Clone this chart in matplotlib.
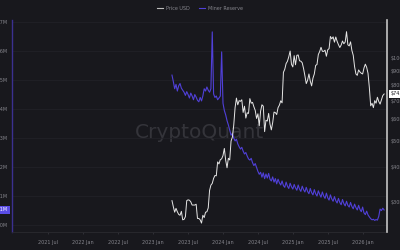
import matplotlib
matplotlib.use("Agg")
import matplotlib.pyplot as plt
import matplotlib.ticker as mticker
from matplotlib.lines import Line2D
import pandas as pd

# weekly BTC price, thousands of USD, from 2023-04-10
price_k = [30.3, 28.8, 27.5, 28.4, 27.6, 27.0, 26.8, 27.7, 25.8, 25.9, 26.5, 30.3, 30.5,
           30.4, 30.0, 29.2, 29.2, 29.2, 29.4, 26.1, 26.1, 25.8, 25.1, 26.8, 26.3, 27.5,
           27.6, 28.5, 33.0, 34.5, 35.0, 36.5, 37.4, 37.3, 41.9, 41.2, 42.7, 43.0,
           44.2, 46.9, 42.5, 39.9, 43.2, 42.6, 49.9, 51.6, 57.0, 66.0, 71.5, 67.6, 70.0,
           69.6, 70.5, 63.4, 66.8, 60.5, 63.2, 62.9, 71.2, 68.5, 69.0, 66.5, 64.5, 60.3,
           62.7, 56.7, 64.1, 67.6, 66.8, 54.0, 59.4, 59.0, 62.9, 57.5, 54.8, 58.2, 63.6,
           63.3, 62.3, 66.0, 67.4, 69.9, 68.7, 88.7, 91.0, 95.5, 97.3, 101.1, 106.0, 94.9,
           92.8,
           102.0, 94.5, 102.3, 102.6, 97.7, 97.4, 96.1, 91.6, 86.2, 80.7, 83.0, 87.5, 82.4,
           79.2, 84.5, 87.5, 94.0, 94.7, 103.0, 105.6, 109.4, 105.8, 105.7, 106.8, 101.5,
           107.1, 108.2, 119.8, 117.4, 119.4, 114.2, 119.3, 115.0, 111.8, 109.2, 111.5,
           115.3, 112.7, 114.3, 124.7, 111.7, 110.7, 114.5, 106.5, 102.3, 93.0, 87.5, 86.5,
           90.5, 89.0, 88.0, 87.5,
           92.0, 95.0, 92.5, 88.0, 78.0, 67.0, 68.5, 66.0, 70.0, 68.5, 72.0, 69.5, 68.0,
           70.5, 73.0, 74.0]

# weekly miner reserve, millions of BTC, same dates
reserve_m = [1.8517, 1.8495, 1.8470, 1.8485, 1.8462,
             1.8480, 1.8488, 1.8472, 1.8465,
             1.8458, 1.8447, 1.8460, 1.8450, 1.8438,
             1.8455, 1.8445, 1.8432, 1.8450, 1.8441,
             1.8430, 1.8425, 1.8440, 1.8428, 1.8445,
             1.8470, 1.8462, 1.8476, 1.8465, 1.8458, 1.8470,
             1.8666,
             1.8452, 1.8440, 1.8445, 1.8432, 1.8438, 1.8445,
             1.8597,
             1.8420, 1.8395, 1.8380, 1.8360, 1.8345, 1.8328, 1.8310,
             1.8315, 1.8300, 1.8290, 1.8296, 1.8280, 1.8270, 1.8262,
             1.8268, 1.8255, 1.8245, 1.8250, 1.8238, 1.8228, 1.8224,
             1.8230, 1.8215, 1.8205, 1.8212, 1.8198, 1.8185, 1.8175,
             1.8182, 1.8165, 1.8180, 1.8160, 1.8176, 1.8162, 1.8178, 1.8158,
             1.8152, 1.8166, 1.8148, 1.8160, 1.8142, 1.8158, 1.8146,
             1.8138, 1.8152, 1.8136, 1.8130, 1.8148, 1.8134, 1.8126, 1.8144,
             1.8132, 1.8124, 1.8140, 1.8128, 1.8120, 1.8138, 1.8124, 1.8116,
             1.8134, 1.8122, 1.8114, 1.8130, 1.8116, 1.8108, 1.8126, 1.8112,
             1.8104, 1.8122, 1.8108, 1.8100, 1.8118, 1.8106, 1.8096, 1.8114,
             1.8100, 1.8092, 1.8110, 1.8094, 1.8086, 1.8104, 1.8090, 1.8082,
             1.8098, 1.8084, 1.8076, 1.8092, 1.8078, 1.8070, 1.8088, 1.8074,
             1.8066, 1.8082, 1.8068, 1.8062, 1.8078, 1.8064, 1.8056, 1.8072,
             1.8060, 1.8052, 1.8068, 1.8054, 1.8046, 1.8062, 1.8042, 1.8036,
             1.8048, 1.8035, 1.8028, 1.8022, 1.8018, 1.8020, 1.8016, 1.8019, 1.8017,
             1.8030, 1.8055, 1.8050, 1.8058, 1.8052]

reserve_ticks = [1.80, 1.81, 1.82, 1.83, 1.84, 1.85, 1.86, 1.87]
reserve_labels = ["1.80M", "1.81M", "1.82M", "1.83M", "1.84M", "1.85M", "1.86M", "1.87M"]
price_ticks = [30, 40, 50, 60, 70, 80, 90, 100]
price_labels = ["$30K", "$40K", "$50K", "$60K", "$70K", "$80K", "$90K", "$100K"]
x_ticks = ["2021-07-01", "2022-01-01", "2022-07-01", "2023-01-01", "2023-07-01",
           "2024-01-01", "2024-07-01", "2025-01-01", "2025-07-01", "2026-01-01"]
x_labels = ["2021 Jul", "2022 Jan", "2022 Jul", "2023 Jan", "2023 Jul",
            "2024 Jan", "2024 Jul", "2025 Jan", "2025 Jul", "2026 Jan"]

bg = "#18181d"
blue = "#5040d8"
white = "#e6e6e6"
txt = "#85858c"

dates = pd.date_range("2023-04-10", periods=len(price_k), freq="W-MON")

fig = plt.figure(figsize=(4, 2.5), dpi=100, facecolor=bg)
ax = fig.add_axes([0.03, 0.072, 0.9375, 0.848])
ax.set_facecolor(bg)
ax2 = ax.twinx()

# watermark
ax.text(0.5, 0.47, "CryptoQuant", transform=fig.transFigure, ha="center", va="center",
        fontsize=14.5, color="#34343a", zorder=0)

ax.plot(dates, reserve_m, color=blue, lw=0.8, zorder=2)
ax2.plot(dates, price_k, color=white, lw=0.7)

ax.set_xlim(pd.Timestamp("2020-12-27"), pd.Timestamp("2026-05-05"))
ax.set_ylim(1.7976, 1.8707)
ax2.set_yscale("log")
ax2.set_ylim(23.3, 137.5)

ax.set_xticks(pd.to_datetime(x_ticks))
ax.set_xticklabels(x_labels)
ax.set_yticks(reserve_ticks)
ax.set_yticklabels(reserve_labels)
ax2.set_yticks(price_ticks)
ax2.set_yticklabels(price_labels)
ax2.yaxis.set_minor_locator(mticker.NullLocator())

ax.grid(axis="y", color="#232329", lw=0.5)
ax.tick_params(axis="x", length=1.5, width=0.5, color="#3a3a40", pad=4, labelsize=3.5, labelcolor=txt)
ax.tick_params(axis="y", length=0, pad=3, labelsize=3.5, labelcolor=txt)
ax2.tick_params(axis="y", length=0, pad=2.5, labelsize=3.5, labelcolor=txt)

for s in ["top", "right"]:
    ax.spines[s].set_visible(False)
for s in ["top", "left", "bottom"]:
    ax2.spines[s].set_visible(False)
ax.spines["left"].set_color("#3b3090")
ax.spines["left"].set_linewidth(1.0)
ax.spines["bottom"].set_color("#2a2a30")
ax.spines["bottom"].set_linewidth(0.6)
ax2.spines["right"].set_color("#c4c4c4")
ax2.spines["right"].set_linewidth(1.2)

# current value tags
ax.annotate("1.81M", xy=(0, reserve_m[-1]), xycoords=ax.get_yaxis_transform(),
            xytext=(-3, 0), textcoords="offset points", ha="right", va="center",
            fontsize=3.5, color="white",
            bbox=dict(boxstyle="square,pad=0.35", fc="#5a4de6", ec="none"))
ax2.annotate("$74.0K", xy=(1, price_k[-1]), xycoords=ax2.get_yaxis_transform(),
             xytext=(2.5, 0), textcoords="offset points", ha="left", va="center",
             fontsize=3.5, color="#18181d",
             bbox=dict(boxstyle="square,pad=0.35", fc="white", ec="none"))

handles = [Line2D([], [], color="#bdbdbd", lw=0.8), Line2D([], [], color=blue, lw=0.8)]
fig.legend(handles, ["Price USD", "Miner Reserve"], loc="center", bbox_to_anchor=(0.5, 0.968),
           ncol=2, frameon=False, fontsize=3.5, labelcolor=txt, handlelength=1.3,
           handletextpad=0.6, columnspacing=1.8)

fig.savefig("out.png", dpi=100, facecolor=bg)
